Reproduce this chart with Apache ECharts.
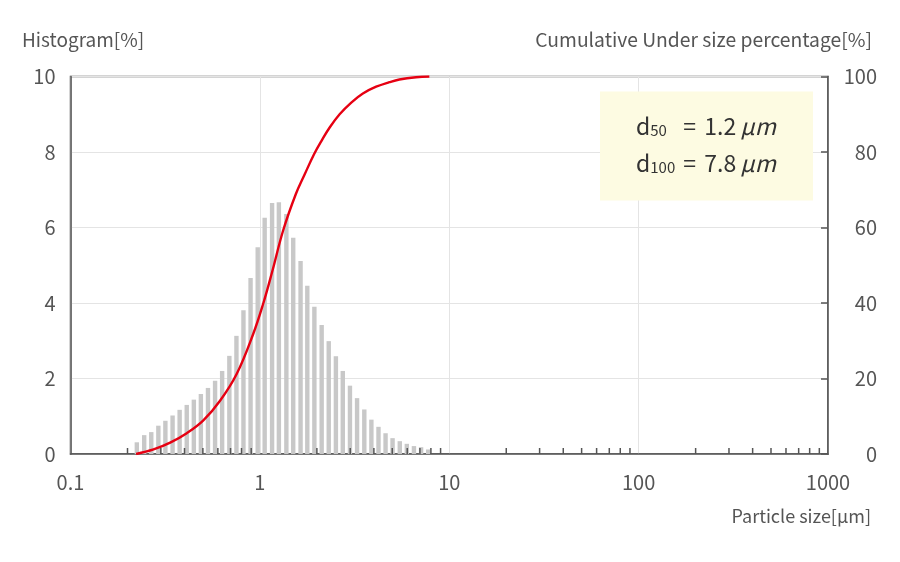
<!DOCTYPE html>
<html>
<head>
<meta charset="utf-8">
<script src="https://cdn.jsdelivr.net/npm/echarts@6/dist/echarts.min.js"></script>
<style>
  html, body { margin: 0; padding: 0; background: #fff; }
  #chart { width: 900px; height: 562px; }
</style>
</head>
<body>
<div id="chart"></div>
<script>
// Particle size bins (µm) – bar centres
const particleSizes = [
  0.224, 0.245, 0.267, 0.291, 0.317, 0.346, 0.377, 0.411, 0.448, 0.488,
  0.532, 0.580, 0.632, 0.690, 0.752, 0.819, 0.893, 0.974, 1.06, 1.16,
  1.26, 1.38, 1.50, 1.64, 1.78, 1.94, 2.12, 2.31, 2.52, 2.74,
  2.99, 3.26, 3.56, 3.88, 4.23, 4.61, 5.02, 5.48, 5.97, 6.51,
  7.10, 7.74
];
// Histogram values (%)
const histogram = [
  0.31, 0.50, 0.58, 0.75, 0.88, 1.02, 1.17, 1.30, 1.44, 1.59,
  1.75, 1.94, 2.20, 2.60, 3.13, 3.81, 4.66, 5.48, 6.26, 6.65,
  6.67, 6.36, 5.73, 5.11, 4.46, 3.90, 3.42, 2.99, 2.59, 2.20,
  1.81, 1.48, 1.18, 0.91, 0.72, 0.55, 0.42, 0.34, 0.27, 0.21,
  0.18, 0.12
];
// Cumulative under-size curve
const cumSizes = [0.222, 0.2745, 0.336, 0.411, 0.503, 0.616, 0.754, 0.922, 1.041, 1.166, 1.327, 1.547, 1.725, 1.932, 2.112, 2.336, 2.637, 3.038, 3.499, 4.111, 4.832, 5.455, 6.676, 7.85];
const cumulative = [0, 1.2, 3.0, 5.5, 8.9, 14.1, 21.2, 31.8, 39.8, 48.6, 59.2, 68.8, 74.1, 79.4, 82.9, 86.5, 90.0, 93.1, 95.5, 97.3, 98.5, 99.2, 99.8, 100];
// Minor tick positions on the log axis
const minorTickValues = [
  0.2, 0.3, 0.4, 0.5, 0.6, 0.7, 0.8, 0.9,
  2, 3, 4, 5, 6, 7, 8, 9,
  20, 30, 40, 50, 60, 70, 80, 90,
  200, 300, 400, 500, 600, 700, 800, 900
];
const xTickLabels = ['0.1', '1', '10', '100', '1000'];
const leftTicks = [0, 2, 4, 6, 8, 10];
const rightTicks = [0, 20, 40, 60, 80, 100];

const FONT = "'Noto Sans CJK JP', 'Noto Sans', sans-serif";
const TXT = '#555';
const DARK = '#333';

const chart = echarts.init(document.getElementById('chart'), null, { renderer: 'canvas' });

function annoRich() {
  return {
    d: { fontSize: 23, fontFamily: FONT, fill: DARK, verticalAlign: 'bottom', lineHeight: 30 },
    s: { fontSize: 15, fontFamily: FONT, fill: DARK, width: 33, verticalAlign: 'bottom', lineHeight: 26 },
    e: { fontSize: 23, fontFamily: FONT, fill: DARK, width: 21, verticalAlign: 'bottom', lineHeight: 30 },
    v: { fontSize: 23, fontFamily: FONT, fill: DARK, verticalAlign: 'bottom', lineHeight: 30 },
    mu: { fontSize: 23, fontFamily: FONT, fontStyle: 'italic', fill: DARK, padding: [0, 0, 0, 4], verticalAlign: 'bottom', lineHeight: 30 }
  };
}

const option = {
  backgroundColor: '#fff',
  animation: false,
  textStyle: { fontFamily: FONT },
  grid: {
    left: 70.5, right: 72, top: 76.5, bottom: 108,
    show: true, borderColor: '#555', borderWidth: 1.5, backgroundColor: 'transparent'
  },
  xAxis: {
    type: 'log', logBase: 10, min: 0.1, max: 1000,
    axisLine: { show: true, lineStyle: { color: '#555', width: 1.5 } },
    axisTick: { show: false },
    splitLine: { show: true, lineStyle: { color: '#e4e4e4', width: 1 } },
    axisLabel: {
      fontSize: 20, color: TXT, margin: 18, fontFamily: FONT,
      formatter: v => {
        const idx = Math.round(Math.log10(v)) + 1;
        return xTickLabels[idx] !== undefined ? xTickLabels[idx] : String(v);
      }
    }
  },
  yAxis: [
    {
      type: 'value', min: leftTicks[0], max: leftTicks[leftTicks.length - 1], interval: 2,
      position: 'left',
      axisLine: { show: true, lineStyle: { color: '#555', width: 1.5 } },
      axisTick: { show: false },
      splitLine: { show: true, lineStyle: { color: '#e4e4e4', width: 1 } },
      axisLabel: { fontSize: 20, color: TXT, margin: 15, fontFamily: FONT }
    },
    {
      type: 'value', min: rightTicks[0], max: rightTicks[rightTicks.length - 1], interval: 20,
      position: 'right',
      axisLine: { show: true, lineStyle: { color: '#555', width: 1.5 } },
      axisTick: { show: true, inside: true, length: 7, lineStyle: { color: '#555', width: 1.5 } },
      splitLine: { show: false },
      axisLabel: { fontSize: 20, color: TXT, margin: 49, align: 'right', fontFamily: FONT }
    }
  ],
  series: [
    {
      type: 'custom',
      name: 'Histogram',
      xAxisIndex: 0, yAxisIndex: 0,
      data: particleSizes.map((s, i) => [s, histogram[i]]),
      encode: { x: 0, y: 1 },
      renderItem: function (params, api) {
        const x = api.value(0), h = api.value(1);
        const top = api.coord([x, h]);
        const base = api.coord([x, 0]);
        return {
          type: 'rect',
          shape: { x: top[0] - 2.2, y: top[1], width: 4.4, height: base[1] - top[1] },
          style: { fill: '#c8c8c8' }
        };
      },
      z: 2
    },
    {
      type: 'custom',
      name: 'minorTicks',
      xAxisIndex: 0, yAxisIndex: 0,
      silent: true,
      data: minorTickValues.map(v => [v, 0]),
      encode: { x: 0, y: 1 },
      renderItem: function (params, api) {
        const p = api.coord([api.value(0), 0]);
        return {
          type: 'line',
          shape: { x1: p[0], y1: p[1], x2: p[0], y2: p[1] - 6 },
          style: { stroke: '#555', lineWidth: 1.5 }
        };
      },
      z: 4
    },
    {
      type: 'line',
      name: 'Cumulative',
      xAxisIndex: 0, yAxisIndex: 1,
      data: cumSizes.map((s, i) => [s, cumulative[i]]),
      smooth: 0.4,
      showSymbol: false,
      lineStyle: { color: '#e60012', width: 2.4 },
      itemStyle: { color: '#e60012' },
      z: 5
    }
  ],
  graphic: [
    {
      type: 'text', left: 22, top: 30,
      style: { text: 'Histogram[%]', font: '19px ' + FONT, fill: TXT }
    },
    {
      type: 'text', right: 28, top: 30,
      style: { text: 'Cumulative Under size percentage[%]', font: '19.3px ' + FONT, fill: TXT }
    },
    {
      type: 'text', right: 29, top: 507,
      style: { text: 'Particle size[µm]', font: '18px ' + FONT, fill: TXT }
    },
    {
      type: 'rect', left: 600, top: 91.5, z: 10,
      shape: { width: 213, height: 109 },
      style: { fill: '#fdfbe2' }
    },
    {
      type: 'text', left: 636, top: 115, z: 11,
      style: { text: '{d|d}{s|50}{e|=}{v|1.2}{mu|μm}', rich: annoRich() }
    },
    {
      type: 'text', left: 636, top: 152, z: 11,
      style: { text: '{d|d}{s|100}{e|=}{v|7.8}{mu|μm}', rich: annoRich() }
    }
  ]
};

chart.setOption(option);
</script>
</body>
</html>
